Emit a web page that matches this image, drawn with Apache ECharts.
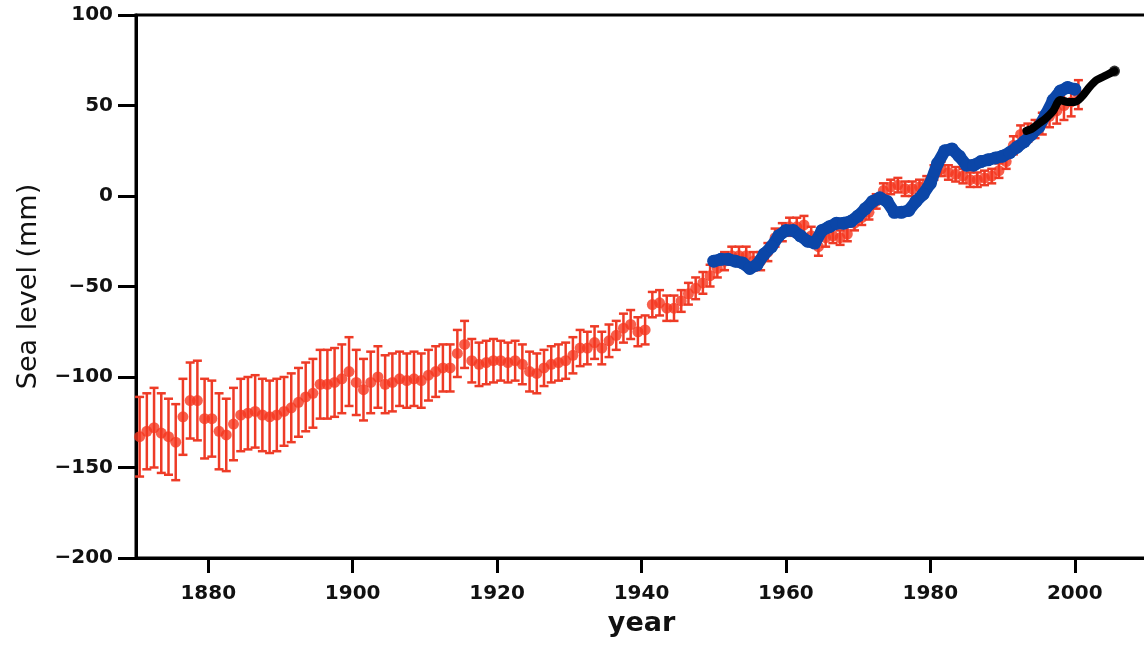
<!DOCTYPE html>
<html>
<head>
<meta charset="utf-8">
<script src="https://cdn.jsdelivr.net/npm/echarts@6/dist/echarts.min.js"></script>
<style>
  html, body { margin: 0; padding: 0; background: #fff; }
  #main { width: 1144px; height: 645px; }
</style>
</head>
<body>
<div id="main"></div>
<script>
"use strict";

// red: reconstruction with error bars (annual, plotted mid-year)
let redYears = [];
for (let y = 1870; y <= 2000; y++) redYears.push(y + 0.5);
let redValues = [
  -133, -130, -128, -131, -133, -136, -122, -113, -113, -123,
  -123, -130, -132, -126, -121, -120, -119, -121, -122, -121,
  -119, -117, -114, -111, -109, -104, -104, -103, -101, -97,
  -103, -107, -103, -100, -104, -103, -101, -102, -101, -102,
  -99, -97, -95, -95, -87, -82, -91, -93, -92, -91,
  -91, -92, -91, -93, -97, -98, -95, -93, -92, -91,
  -88, -84, -84, -81, -84, -80, -77, -73, -71, -75,
  -74, -60, -59, -62, -62, -58, -54, -51, -48, -44,
  -40, -36, -33, -33, -33, -36, -36, -31, -23, -20,
  -17, -17, -16, -22, -28, -23, -22, -23, -21, -15,
  -12, -9, -3, 3, 5, 6, 4, 4, 5, 7,
  13, 15, 13, 12, 11, 9, 9, 10, 11, 14,
  19, 28, 34, 35, 37, 40, 44, 47, 50, 52,
  56
];
let redErrors = [
  22, 21, 22, 22, 21, 21, 21, 21, 22, 22,
  21, 21, 20, 20, 20, 20, 20, 20, 20, 20,
  19, 19, 19, 19, 19, 19, 19, 19, 19, 19,
  18, 17, 17, 17, 16, 16, 15, 15, 15, 15,
  14, 14, 13, 13, 13, 13, 12, 12, 12, 12,
  11, 11, 11, 11, 11, 11, 10, 10, 10, 10,
  10, 10, 9, 9, 9, 9, 8, 8, 8, 8,
  8, 7, 7, 7, 7, 6, 6, 6, 6, 6,
  5, 5, 5, 5, 5, 5, 5, 5, 5, 5,
  5, 5, 5, 5, 5, 5, 4, 4, 4, 4,
  4, 4, 4, 4, 4, 4, 4, 4, 4, 4,
  4, 4, 4, 4, 4, 4, 4, 4, 4, 4,
  4, 5, 5, 5, 5, 6, 6, 7, 8, 8,
  8
];

// blue: tide gauges
let blueYears = [];
for (let y = 1950; y <= 2000; y++) blueYears.push(y);
let blueValues = [
  -36, -35, -35, -36, -37, -40, -38, -32, -28, -22,
  -19, -19, -22, -25, -26, -19, -17, -15, -15, -14,
  -11, -7, -3, -1, -3, -9, -9, -8, -3, 1,
  7, 18, 25, 26, 22, 17, 17, 19, 20, 21,
  22, 24, 27, 30, 34, 38, 45, 53, 58, 60,
  59
];

// black: satellite altimetry
let blackYears = [1993.3, 1994, 1995, 1996, 1997, 1998, 1999, 2000, 2001, 2002, 2003, 2004, 2005, 2005.5];
let blackValues = [36, 37, 40, 43, 47, 53, 52, 52, 55, 60, 64, 66, 68, 69];

let yearTicks = [1880, 1900, 1920, 1940, 1960, 1980, 2000];

let redColor = '#f5371f';
let barColor = '#ee3b26';
let blueColor = '#0b46a8';

function pairs(xs, ys) {
  return xs.map(function (x, i) { return [x, ys[i]]; });
}

let errorData = redYears.map(function (x, i) {
  return [x, redValues[i] - redErrors[i], redValues[i] + redErrors[i]];
});

let myChart = echarts.init(document.getElementById('main'));

let option = {
  backgroundColor: '#fff',
  animation: false,
  grid: {
    left: 136, top: 15, width: 1011, height: 543,
    outerBoundsMode: 'none',
    containLabel: false,
    show: true, borderColor: '#000', borderWidth: 3, backgroundColor: 'transparent'
  },
  xAxis: {
    type: 'value',
    min: 1870,
    max: 2010,
    name: 'year',
    nameLocation: 'middle',
    nameGap: 52,
    nameTextStyle: { fontFamily: 'DejaVu Sans', fontWeight: 'bold', fontSize: 27, color: '#111' },
    axisLine: { onZero: false, lineStyle: { color: '#000', width: 3 } },
    axisTick: { show: true, length: 15, lineStyle: { color: '#000', width: 3 }, customValues: yearTicks },
    axisLabel: {
      customValues: yearTicks, margin: 26,
      fontFamily: 'DejaVu Sans', fontWeight: 'bold', fontSize: 20, color: '#111',
      formatter: function (v) { return String(v); }
    },
    splitLine: { show: false }
  },
  yAxis: {
    type: 'value',
    min: -200,
    max: 100,
    interval: 50,
    name: 'Sea level (mm)',
    nameLocation: 'middle',
    nameGap: 94,
    nameRotate: 90,
    nameTextStyle: { fontFamily: 'DejaVu Sans', fontSize: 27, color: '#111' },
    axisLine: { onZero: false, lineStyle: { color: '#000', width: 3 } },
    axisTick: { show: true, length: 18, lineStyle: { color: '#000', width: 3 } },
    axisLabel: {
      margin: 23,
      fontFamily: 'DejaVu Sans', fontWeight: 'bold', fontSize: 20, color: '#111',
      formatter: function (v) { return String(v).replace('-', '\u2212'); }
    },
    splitLine: { show: false }
  },
  series: [
    {
      type: 'custom',
      name: 'error',
      data: errorData,
      z: 2,
      renderItem: function (params, api) {
        let top = api.coord([api.value(0), api.value(2)]);
        let bot = api.coord([api.value(0), api.value(1)]);
        let half = 4.5;
        let style = { stroke: barColor, lineWidth: 2.5 };
        return {
          type: 'group',
          children: [
            { type: 'line', shape: { x1: top[0], y1: top[1], x2: bot[0], y2: bot[1] }, style: style },
            { type: 'line', shape: { x1: top[0] - half, y1: top[1], x2: top[0] + half, y2: top[1] }, style: style },
            { type: 'line', shape: { x1: bot[0] - half, y1: bot[1], x2: bot[0] + half, y2: bot[1] }, style: style }
          ]
        };
      }
    },
    {
      type: 'scatter',
      name: 'reconstruction',
      data: pairs(redYears, redValues),
      symbol: 'circle',
      symbolSize: 11,
      itemStyle: { color: redColor },
      z: 3
    },
    {
      type: 'line',
      name: 'tide gauges',
      data: pairs(blueYears, blueValues),
      symbol: 'circle',
      symbolSize: 13,
      showAllSymbol: true,
      lineStyle: { color: blueColor, width: 12, cap: 'round', join: 'round' },
      itemStyle: { color: blueColor },
      z: 4
    },
    {
      type: 'line',
      name: 'satellite',
      data: pairs(blackYears, blackValues),
      symbol: 'none',
      smooth: 0.3,
      lineStyle: { color: '#000', width: 8, cap: 'round', join: 'round' },
      z: 5
    },
    {
      type: 'scatter',
      name: 'satellite end',
      data: [[blackYears[blackYears.length - 1], blackValues[blackValues.length - 1]]],
      symbolSize: 11,
      itemStyle: { color: '#000' },
      z: 6
    }
  ]
};
myChart.setOption(option);
</script>
</body>
</html>
